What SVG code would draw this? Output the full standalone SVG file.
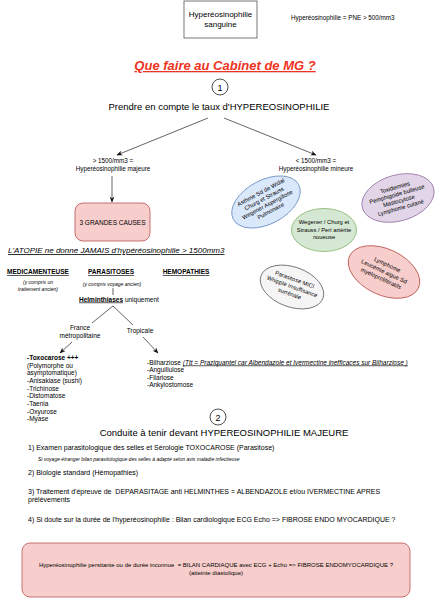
<svg xmlns="http://www.w3.org/2000/svg" width="438" height="600" viewBox="0 0 438 600">
<defs>
<style>
text{font-family:"Liberation Sans",Arial,sans-serif;fill:#000}
.c{text-anchor:middle}
.b{font-weight:bold}
.i{font-style:italic}
.u{text-decoration:underline}
.ln{stroke:#222;stroke-width:0.7;fill:none}
.ell text{font-size:5.8px;text-anchor:middle}
</style>
<marker id="ah" viewBox="0 0 10 10" refX="9" refY="5" markerWidth="6" markerHeight="6" orient="auto" markerUnits="userSpaceOnUse">
<path d="M0,1 L10,5 L0,9 L3,5 z" fill="#111"/>
</marker>
</defs>
<rect width="438" height="600" fill="#fff"/>

<g id="top-box">
<rect x="184" y="1" width="73" height="37" fill="#fff" stroke="#555" stroke-width="0.8"/>
<text class="c" x="220.5" y="17" font-size="8">Hyperéosinophilie</text>
<text class="c" x="220.5" y="27" font-size="8">sanguine</text>
</g>
<g id="def-note">
<text x="291" y="20" font-size="6.3">Hyperéosinophilie = PNE &gt; 500/mm3</text>
</g>

<g id="title">
<text class="c b i u" x="225" y="70" font-size="13" style="fill:#ee3322">Que faire au Cabinet de MG ?</text>
</g>

<g id="step1">
<circle cx="220" cy="87" r="8" fill="#fff" stroke="#222" stroke-width="0.8"/>
<text class="c" x="220" y="90.5" font-size="9">1</text>
<text class="c" x="219" y="110" font-size="9.5">Prendre en compte le taux d'HYPEREOSINOPHILIE</text>
</g>

<g id="connectors">
<line class="ln" x1="208" y1="118" x2="117" y2="155" marker-end="url(#ah)"/>
<line class="ln" x1="224" y1="118" x2="316" y2="155" marker-end="url(#ah)"/>
<line class="ln" x1="112" y1="176" x2="112" y2="202" marker-end="url(#ah)"/>
<line class="ln" x1="113" y1="288" x2="113" y2="295"/>
<line class="ln" x1="113" y1="306" x2="92" y2="323"/>
<line class="ln" x1="113" y1="306" x2="133" y2="325"/>
<line class="ln" x1="72" y1="342" x2="60" y2="353" marker-end="url(#ah)"/>
<line class="ln" x1="143" y1="337" x2="158" y2="353" marker-end="url(#ah)"/>
</g>

<g id="majeure">
<text class="c" x="113" y="163" font-size="6.3">&gt; 1500/mm3 =</text>
<text class="c" x="113" y="171" font-size="6.3">Hyperéosinophilie majeure</text>
</g>
<g id="mineure">
<text class="c" x="316" y="163" font-size="6.3">&lt; 1500/mm3 =</text>
<text class="c" x="316" y="171" font-size="6.3">Hyperéosinophilie mineure</text>
</g>

<g id="causes">
<rect x="75" y="203" width="75" height="38" rx="8" fill="#f8cecc" stroke="#b85450" stroke-width="0.8"/>
<text class="c" x="112.5" y="224.5" font-size="6.5">3 GRANDES CAUSES</text>
</g>

<g id="atopie">
<text class="i u" x="8" y="253" font-size="8">L'ATOPIE ne donne JAMAIS d'hypéréosinophilie &gt; 1500mm3</text>
</g>

<g id="medic">
<text class="c b u" x="38" y="274" font-size="6.5">MEDICAMENTEUSE</text>
<text class="c i" x="38" y="284" font-size="5">(y compris un</text>
<text class="c i" x="38" y="291" font-size="5">traitement ancien)</text>
</g>
<g id="parasitoses">
<text class="c b u" x="111" y="274" font-size="6.5">PARASITOSES</text>
<text class="c i" x="112" y="285.5" font-size="5">(y compris voyage ancien)</text>
</g>
<g id="hemopathies">
<text class="c b u" x="186" y="274" font-size="6.5">HEMOPATHIES</text>
</g>
<g id="helminth">
<text x="79" y="301.5" font-size="6.5"><tspan class="b u">Helminthiases</tspan> uniquement</text>
</g>
<g id="france">
<text class="c" x="80" y="330" font-size="6.5">France</text>
<text class="c" x="80" y="338" font-size="6.5">métropolitaine</text>
</g>
<g id="tropicale">
<text class="c" x="140" y="333" font-size="6.5">Tropicale</text>
</g>

<g id="list-france" font-size="6.5">
<text class="b" x="27" y="360" font-size="6.5">-Toxocarose +++</text>
<text x="27" y="367.5" font-size="6.5">(Polymorphe ou</text>
<text x="27" y="375" font-size="6.5">asymptomatique)</text>
<text x="27" y="383" font-size="6.5">-Anisakiase (sushi)</text>
<text x="27" y="390.5" font-size="6.5">-Trichinose</text>
<text x="27" y="398" font-size="6.5">-Distomatose</text>
<text x="27" y="406" font-size="6.5">-Taenia</text>
<text x="27" y="413.5" font-size="6.5">-Oxyurose</text>
<text x="27" y="421" font-size="6.5">-Myase</text>
</g>
<g id="list-tropicale">
<text x="147" y="364.5" font-size="6.5">-Bilharziose <tspan class="i u">(Ttt = Praziquantel car Albendazole et Ivermectine inefficaces sur Bilharziose  )</tspan></text>
<text x="147" y="372" font-size="6.5">-Anguillulose</text>
<text x="147" y="379.5" font-size="6.5">-Filariose</text>
<text x="147" y="387" font-size="6.5">-Ankylostomose</text>
</g>

<g id="ell-blue" class="ell" transform="rotate(-28 266 202)">
<ellipse cx="266" cy="202" rx="37" ry="22" fill="#dae8fc" stroke="#6c8ebf" stroke-width="0.8"/>
<text x="266" y="193">Asthme Sd de Widal</text>
<text x="266" y="200">Churg et Strauss</text>
<text x="266" y="207">Wegener Aspergillose</text>
<text x="266" y="214">Pulmonaire</text>
</g>
<g id="ell-purple" class="ell" transform="rotate(-16 398 198)">
<ellipse cx="398" cy="198" rx="37" ry="23" fill="#e1d5e7" stroke="#9673a6" stroke-width="0.8"/>
<text x="398" y="189">Toxidermies</text>
<text x="398" y="196">Pemphigoide bulleuse</text>
<text x="398" y="203">Mastocytose</text>
<text x="398" y="210">Lymphome cutané</text>
</g>
<g id="ell-green" class="ell">
<ellipse cx="324" cy="230" rx="32.5" ry="21.5" fill="#d5e8d4" stroke="#82b366" stroke-width="0.8"/>
<text x="324" y="224">Wegener / Churg et</text>
<text x="324" y="231.5">Strauss / Peri artérite</text>
<text x="324" y="239">noueuse</text>
</g>
<g id="ell-gray" class="ell" transform="rotate(20 292 287)">
<ellipse cx="292" cy="287" rx="33" ry="20" fill="#f5f5f5" stroke="#666" stroke-width="0.8"/>
<text x="292" y="281">Parasitose MICI</text>
<text x="292" y="288.5">Whipple Insuffisance</text>
<text x="292" y="296">surrénale</text>
</g>
<g id="ell-red" class="ell" transform="rotate(25 384 272)">
<ellipse cx="384" cy="272" rx="38" ry="23" fill="#f8cecc" stroke="#b85450" stroke-width="0.8"/>
<text x="384" y="266">Lymphome</text>
<text x="384" y="273.5">Leucémie aigue Sd</text>
<text x="384" y="281">myéloprolifératifs</text>
</g>

<g id="step2">
<circle cx="218" cy="417" r="8" fill="#fff" stroke="#222" stroke-width="0.8"/>
<text class="c" x="218" y="420.5" font-size="9">2</text>
<text class="c" x="224" y="436" font-size="9.5">Conduite à tenir devant HYPEREOSINOPHILIE MAJEURE</text>
</g>

<g id="steps" font-size="7">
<text x="28" y="449.5" font-size="7">1) Examen parasitologique des selles et Sérologie TOXOCAROSE (Parasitose)</text>
<text class="i" x="38" y="461" font-size="5">Si voyage étranger bilan parasitologique des selles à adapté selon avis maladie infectieuse</text>
<text x="28" y="474.5" font-size="7">2) Biologie standard (Hémopathies)</text>
<text x="28" y="493.5" font-size="7" xml:space="preserve">3) Traitement d'épreuve de  DEPARASITAGE anti HELMINTHES = ALBENDAZOLE et/ou IVERMECTINE APRES</text>
<text x="28" y="501.5" font-size="7">prélèvements</text>
<text x="28" y="521.5" font-size="7">4) Si doute sur la durée de l'hyperéosinophilie : Bilan cardiologique ECG Echo =&gt; FIBROSE ENDO MYOCARDIQUE ?</text>
</g>

<g id="bottom-box">
<rect x="22" y="543" width="388" height="54" rx="8" fill="#f8cecc" stroke="#b85450" stroke-width="0.8"/>
<text class="c" x="216" y="567" font-size="6" xml:space="preserve">Hyperéosinophilie persitante ou de durée inconnue  = BILAN CARDIAQUE avec ECG + Echo =&gt; FIBROSE ENDOMYOCARDIQUE ?</text>
<text class="c" x="216" y="575" font-size="6">(atteinte diastolique)</text>
</g>
</svg>
